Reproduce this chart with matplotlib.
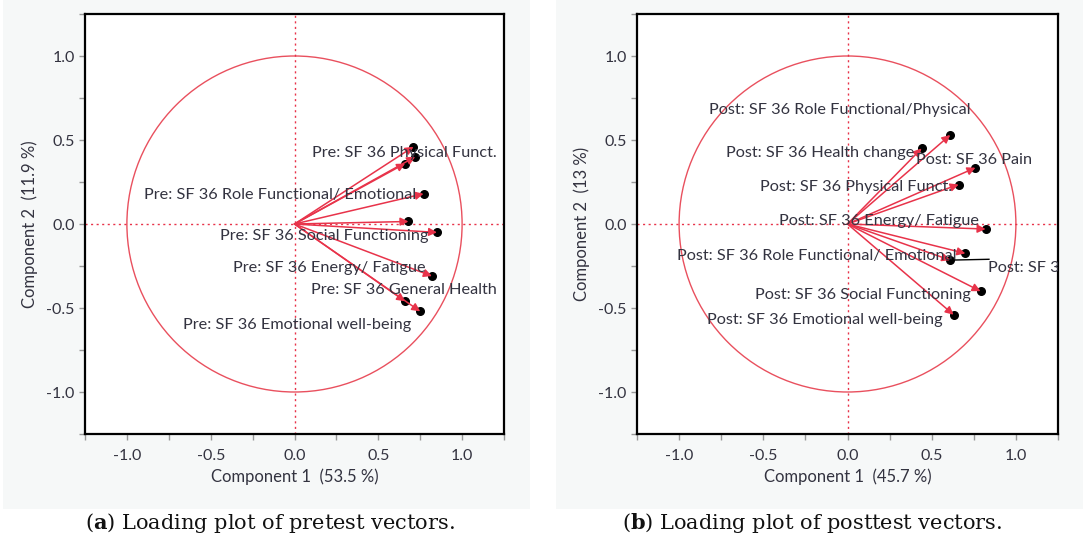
import matplotlib.pyplot as plt
from matplotlib.patches import Circle, Rectangle
from matplotlib.ticker import MultipleLocator

plt.rcParams['mathtext.fontset'] = 'dejavuserif'
plt.rcParams['axes.unicode_minus'] = False

# loadings, pretest
pre_x = [0.71, 0.72, 0.66, 0.77, 0.68, 0.85, 0.82, 0.66, 0.75]
pre_y = [0.46, 0.40, 0.36, 0.18, 0.015, -0.05, -0.31, -0.46, -0.52]
pre_labels = ["Pre: SF 36 Physical Funct.", None, None,
              "Pre: SF 36 Role Functional/ Emotional", None,
              "Pre: SF 36 Social Functioning", "Pre: SF 36 Energy/ Fatigue",
              "Pre: SF 36 General Health", "Pre: SF 36 Emotional well-being"]
pre_var = (53.5, 11.9)

# loadings, posttest
post_x = [0.61, 0.44, 0.76, 0.66, 0.82, 0.70, 0.61, 0.79, 0.63]
post_y = [0.53, 0.45, 0.335, 0.235, -0.03, -0.175, -0.215, -0.40, -0.54]
post_labels = ["Post: SF 36 Role Functional/Physical", "Post: SF 36 Health change",
               "Post: SF 36 Pain", "Post: SF 36 Physical Funct.",
               "Post: SF 36 Energy/ Fatigue", "Post: SF 36 Role Functional/ Emotional",
               "Post: SF 36 General Health", "Post: SF 36 Social Functioning",
               "Post: SF 36 Emotional well-being"]
post_var = (45.7, 13)

# label placement (centre of text, data units)
pre_label_pos = [(0.655, 0.42), None, None, (-0.085, 0.17), None,
                 (0.175, -0.07), (0.205, -0.26), (0.655, -0.39), (0.015, -0.60)]
post_label_pos = [(-0.045, 0.68), (-0.165, 0.425), (0.75, 0.38), (0.05, 0.22),
                  (0.19, 0.02), (-0.185, -0.19), None, (0.09, -0.42), (-0.135, -0.57)]

RED = '#e8334a'
TXT = '#333340'
LABEL_FONT = 'Lato'
LABEL_SIZE = 11.7


def loading_plot(ax, xs, ys, labels, label_pos, var):
    ax.set_xlim(-1.25, 1.25)
    ax.set_ylim(-1.25, 1.25)
    ax.add_patch(Circle((0, 0), 1.0, fill=False, ec='#e9505e', lw=1.0))
    ax.axhline(0, color=RED, ls=(0, (1.5, 2.5)), lw=1.0)
    ax.axvline(0, color=RED, ls=(0, (1.5, 2.5)), lw=1.0)
    ax.scatter(xs, ys, s=30, color='black', zorder=3)
    for x, y in zip(xs, ys):
        ax.annotate('', xy=(x, y), xytext=(0, 0),
                    arrowprops=dict(arrowstyle='-|>', color=RED, lw=1.1,
                                    mutation_scale=12, shrinkA=0, shrinkB=0),
                    zorder=4)
    for lab, pos in zip(labels, label_pos):
        if lab is None or pos is None:
            continue
        ax.text(pos[0], pos[1], lab, ha='center', va='center', fontsize=LABEL_SIZE,
                family=LABEL_FONT, color=TXT, zorder=5)
    ax.set_xlabel(f'Component 1  ({var[0]} %)', fontsize=12, family=LABEL_FONT,
                  color=TXT, labelpad=4)
    ax.set_ylabel(f'Component 2  ({var[1]} %)', fontsize=12, family=LABEL_FONT,
                  color=TXT, labelpad=6)
    ax.xaxis.set_major_locator(MultipleLocator(0.5))
    ax.yaxis.set_major_locator(MultipleLocator(0.5))
    ax.xaxis.set_minor_locator(MultipleLocator(0.25))
    ax.yaxis.set_minor_locator(MultipleLocator(0.25))
    ax.tick_params(which='both', direction='out', length=4, width=1, color='#999999',
                   labelcolor=TXT, labelsize=11.5)
    ax.tick_params(axis='x', pad=7)
    for lab in ax.get_xticklabels() + ax.get_yticklabels():
        lab.set_family(LABEL_FONT)
    for s in ax.spines.values():
        s.set_linewidth(1.6)
        s.set_color('black')


fig = plt.figure(figsize=(10.83, 5.39), dpi=100)
fig.patch.set_facecolor('white')

# grey panels behind each plot
for x0, w in [(3 / 1083, 527 / 1083), (556 / 1083, 527 / 1083)]:
    fig.patches.append(Rectangle((x0, 30 / 539), w, 509 / 539,
                                 transform=fig.transFigure, fc='#f6f8f8', ec='none',
                                 zorder=-10))

ax1 = fig.add_axes([85 / 1083, 105 / 539, 419 / 1083, 420 / 539])
ax2 = fig.add_axes([637 / 1083, 105 / 539, 421 / 1083, 420 / 539])

loading_plot(ax1, pre_x, pre_y, pre_labels, pre_label_pos, pre_var)
loading_plot(ax2, post_x, post_y, post_labels, post_label_pos, post_var)

# general health label sits off to the right with a leader line, cut by the frame
gx, gy = post_x[6], post_y[6]
ax2.plot([gx, 0.84], [gy, gy + 0.005], color='black', lw=1.0, zorder=5)
ax2.text(0.835, gy - 0.045, post_labels[6], ha='left', va='center', fontsize=LABEL_SIZE,
         family=LABEL_FONT, color=TXT, zorder=5, clip_on=True)

fig.text(270 / 1083, 16 / 539, r'($\mathbf{a}$) Loading plot of pretest vectors.',
         ha='center', va='center', fontsize=15, family='DejaVu Serif', color='#111111')
fig.text(812 / 1083, 16 / 539, r'($\mathbf{b}$) Loading plot of posttest vectors.',
         ha='center', va='center', fontsize=15, family='DejaVu Serif', color='#111111')

fig.savefig('out.png', dpi=100)
